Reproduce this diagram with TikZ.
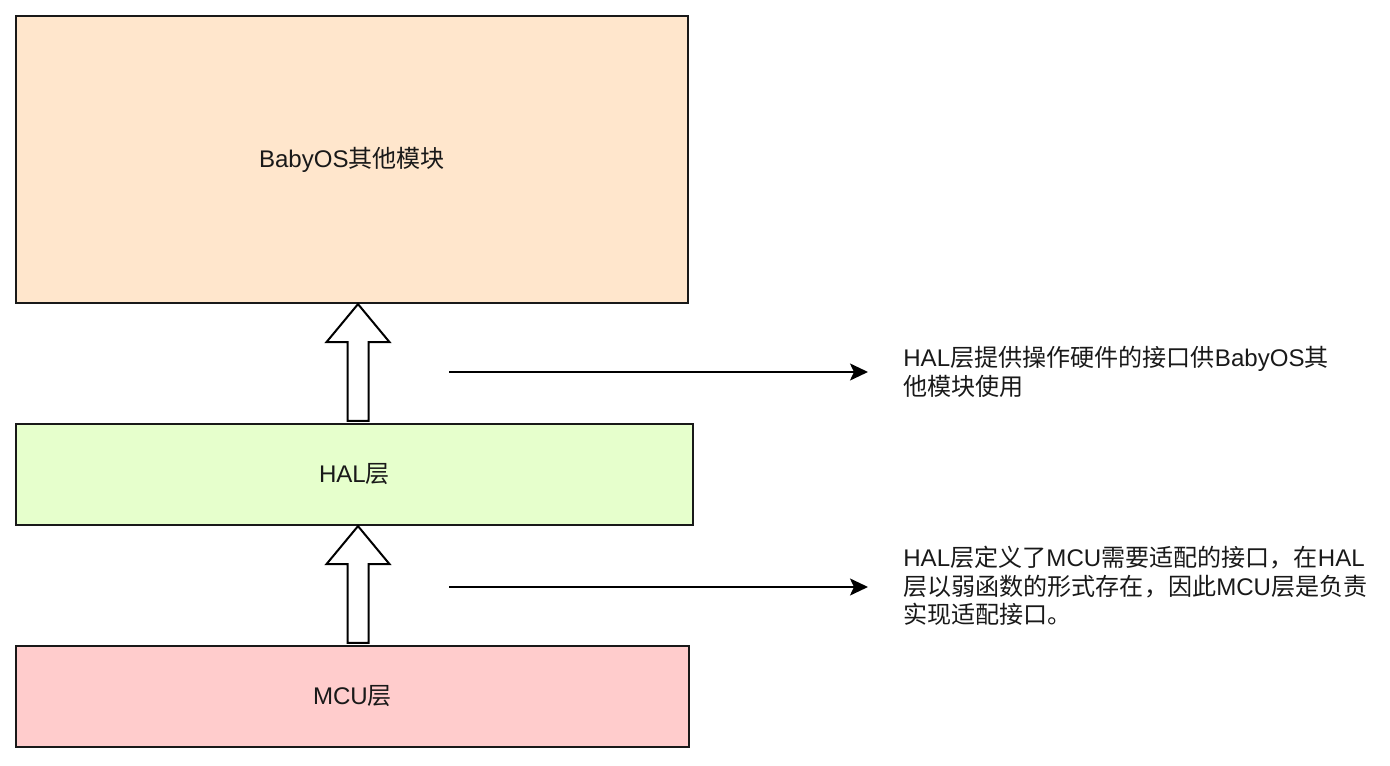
\documentclass[tikz,border=0pt]{standalone}
\usepackage{fontspec}
\setmainfont{Liberation Sans}
\newfontfamily\cjk{Noto Sans CJK SC}
\usetikzlibrary{arrows.meta,calc,positioning}
\definecolor{layerorange}{HTML}{FFE6CC}
\definecolor{layergreen}{HTML}{E6FFCC}
\definecolor{layerred}{HTML}{FFCCCC}
\tikzset{
  layer/.style={draw=black!90,rectangle,line width=0.045cm,inner sep=0pt,font=\fontsize{13.7}{16}\selectfont,text=black!90},
  layer-o/.style={layer,fill=layerorange,minimum width=13.44cm,minimum height=5.74cm},
  layer-g/.style={layer,fill=layergreen,minimum width=13.54cm,minimum height=2.02cm},
  layer-r/.style={layer,fill=layerred,minimum width=13.46cm,minimum height=2.02cm},
  note/.style={anchor=west,align=left,inner sep=0pt,font=\fontsize{13.7}{16.2}\selectfont,text=black!90},
  upflow/.style={draw=black,fill=white,line width=0.04cm,line join=miter},
  link/.style={-{Stealth[length=3.6mm,width=3.4mm,inset=0.8mm]},line width=0.04cm,black},
}

\begin{document}
\begin{tikzpicture}[x=0.02cm,y=-0.02cm]
  \useasboundingbox (0,0) rectangle (1390,766);

  % LAYERS
  \node[layer-o] (babyos) at (352,159.5)  {BabyOS{\cjk 其他模块}};
  \node[layer-g] (hal)    at (354.5,474.5) {HAL{\cjk 层}};
  \node[layer-r] (mcu)    at (352.5,696.5) {MCU{\cjk 层}};

  % block arrows between the layers
  \coordinate (ax)  at (358,0);
  \coordinate (axl) at (347.5,0);
  \coordinate (axr) at (368.5,0);
  \draw[upflow] (babyos.south -| ax) -- ++(31.5,38) -- ++(-21,0)
    -- ($(hal.north -| axr)+(0,-2)$) -- ($(hal.north -| axl)+(0,-2)$)
    -- ($(babyos.south -| ax)+(-10.5,38)$) -- ++(-21,0) -- cycle;
  \draw[upflow] (hal.south -| ax) -- ++(31.5,38) -- ++(-21,0)
    -- ($(mcu.north -| axr)+(0,-2)$) -- ($(mcu.north -| axl)+(0,-2)$)
    -- ($(hal.south -| ax)+(-10.5,38)$) -- ++(-21,0) -- cycle;

  % notes
  \node[note] (note1) at (903,372)
    {HAL{\cjk 层提供操作硬件的接口供}BabyOS{\cjk 其}\\{\cjk 他模块使用}};
  \node[note] (note2) at (903,586)
    {HAL{\cjk 层定义了}MCU{\cjk 需要适配的接口，在}HAL\\{\cjk 层以弱函数的形式存在，因此}MCU{\cjk 层是负责}\\{\cjk 实现适配接口。}};
  \coordinate (s1) at (449,372);
  \coordinate (s2) at (449,587);
  \draw[link] (s1) -- ($(note1.west)+(-35,0)$);
  \draw[link] (s2) -- (s2 -| {$(note2.west)+(-35,0)$});

\end{tikzpicture}
\end{document}
